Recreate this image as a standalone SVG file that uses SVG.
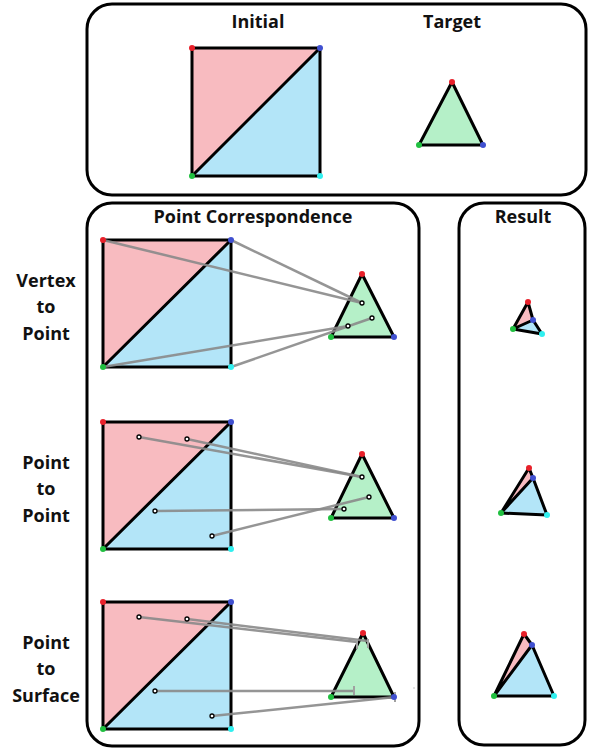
<svg xmlns="http://www.w3.org/2000/svg" width="589" height="750" viewBox="0 0 589 750">
<style>
.panel{fill:#fff;stroke:#000;stroke-width:3}
.t{font-family:"Open Sans","Liberation Sans",sans-serif;font-weight:bold;font-size:18px;fill:#111;text-anchor:middle}
.pink{fill:#f8bbc0}
.blue{fill:#b3e5f8}
.green{fill:#b5f0c8}
.edge{fill:none;stroke:#000;stroke-width:3;stroke-linejoin:round;stroke-linecap:round}
.vr{fill:#e8202a}.vb{fill:#4050d0}.vg{fill:#20c040}.vc{fill:#30f0f0}
.pt{fill:#fff;stroke:#000;stroke-width:1.3}
.link{stroke:#8a8a8a;stroke-width:2.5;opacity:0.9;fill:none}
.tick{stroke:#a0a0a0;stroke-width:2;fill:none}
</style>
<rect width="589" height="750" fill="#fff"/>

<g id="panel-top">
<rect class="panel" x="87" y="4" width="499" height="191" rx="25"/>
<text class="t" x="258" y="28">Initial</text>
<text class="t" x="452" y="28">Target</text>
</g>
<g id="panel-corr">
<rect class="panel" x="87" y="203" width="332" height="543" rx="25"/>
<text class="t" x="253" y="223">Point Correspondence</text>
</g>
<g id="panel-result">
<rect class="panel" x="459" y="203" width="126" height="542" rx="25"/>
<text class="t" x="523" y="223">Result</text>
</g>

<g id="labels">
<text class="t" x="46" y="287">Vertex</text>
<text class="t" x="46" y="313">to</text>
<text class="t" x="46" y="340">Point</text>
<text class="t" x="46" y="469">Point</text>
<text class="t" x="46" y="495">to</text>
<text class="t" x="46" y="522">Point</text>
<text class="t" x="46" y="649">Point</text>
<text class="t" x="46" y="675">to</text>
<text class="t" x="46" y="702">Surface</text>
</g>

<g id="initial-square">
<polygon class="pink" points="192,48 320,48 192,176"/>
<polygon class="blue" points="320,48 320,176 192,176"/>
<rect class="edge" x="192" y="48" width="128" height="128"/>
<line class="edge" x1="192" y1="176" x2="320" y2="48"/>
<circle class="vr" cx="192" cy="48" r="3"/><circle class="vb" cx="320" cy="48" r="3"/>
<circle class="vg" cx="192" cy="176" r="3"/><circle class="vc" cx="320" cy="176" r="3"/>
</g>
<g id="target-triangle">
<polygon class="green" points="452,82 419,145 483,145"/>
<polygon class="edge" points="452,82 419,145 483,145"/>
<circle class="vr" cx="452" cy="82" r="3"/><circle class="vg" cx="419" cy="145" r="3"/><circle class="vb" cx="483" cy="145" r="3"/>
</g>

<g id="square-1">
<polygon class="pink" points="103,240 231,240 103,367"/>
<polygon class="blue" points="231,240 231,367 103,367"/>
<rect class="edge" x="103" y="240" width="128" height="127"/>
<line class="edge" x1="103" y1="367" x2="231" y2="240"/>
</g>
<g id="triangle-1">
<polygon class="green" points="362,274 331,337 394,337"/>
<polygon class="edge" points="362,274 331,337 394,337"/>
</g>
<g id="square-2">
<polygon class="pink" points="103,422 231,422 103,549"/>
<polygon class="blue" points="231,422 231,549 103,549"/>
<rect class="edge" x="103" y="422" width="128" height="127"/>
<line class="edge" x1="103" y1="549" x2="231" y2="422"/>
</g>
<g id="triangle-2">
<polygon class="green" points="362,454 331,518 394,518"/>
<polygon class="edge" points="362,454 331,518 394,518"/>
</g>
<g id="square-3">
<polygon class="pink" points="103,602 231,602 103,729"/>
<polygon class="blue" points="231,602 231,729 103,729"/>
<rect class="edge" x="103" y="602" width="128" height="127"/>
<line class="edge" x1="103" y1="729" x2="231" y2="602"/>
</g>
<g id="triangle-3">
<polygon class="green" points="363,633 331,697 394,697"/>
<polygon class="edge" points="363,633 331,697 394,697"/>
</g>

<g id="connectors">
<line class="link" x1="103" y1="240" x2="362" y2="303"/>
<line class="link" x1="231" y1="240" x2="362" y2="303"/>
<line class="link" x1="103" y1="367" x2="348" y2="326"/>
<line class="link" x1="231" y1="367" x2="372" y2="318"/>

<line class="link" x1="139" y1="437" x2="362" y2="477"/>
<line class="link" x1="187" y1="439" x2="362" y2="477"/>
<line class="link" x1="155" y1="511" x2="344" y2="509"/>
<line class="link" x1="212" y1="536" x2="369" y2="497"/>

<line class="link" x1="139" y1="617" x2="357" y2="642"/>
<line class="link" x1="187" y1="619" x2="368" y2="641"/>
<line class="link" x1="155" y1="691" x2="354" y2="691"/>
<line class="link" x1="212" y1="716" x2="395" y2="697"/>
<line class="tick" x1="357" y1="640" x2="357" y2="649"/>
<line class="tick" x1="368" y1="639" x2="368" y2="648"/>
<line class="tick" x1="354" y1="686" x2="354" y2="695"/>
<line class="tick" x1="395" y1="692" x2="395" y2="702"/>
<circle cx="414" cy="688" r="0.8" fill="#bbb"/>
</g>

<g id="points">
<circle class="vr" cx="103" cy="240" r="3"/><circle class="vb" cx="231" cy="240" r="3"/>
<circle class="vg" cx="103" cy="367" r="3"/><circle class="vc" cx="231" cy="367" r="3"/>
<circle class="vr" cx="362" cy="274" r="3"/><circle class="vg" cx="331" cy="337" r="3"/><circle class="vb" cx="394" cy="337" r="3"/>
<circle class="pt" cx="362" cy="303" r="2"/><circle class="pt" cx="372" cy="318" r="2"/><circle class="pt" cx="348" cy="326" r="2"/>

<circle class="vr" cx="103" cy="422" r="3"/><circle class="vb" cx="231" cy="422" r="3"/>
<circle class="vg" cx="103" cy="549" r="3"/><circle class="vc" cx="231" cy="549" r="3"/>
<circle class="vr" cx="362" cy="454" r="3"/><circle class="vg" cx="331" cy="518" r="3"/><circle class="vb" cx="394" cy="518" r="3"/>
<circle class="pt" cx="139" cy="437" r="2"/><circle class="pt" cx="187" cy="439" r="2"/><circle class="pt" cx="155" cy="511" r="2"/><circle class="pt" cx="212" cy="536" r="2"/>
<circle class="pt" cx="362" cy="477" r="2"/><circle class="pt" cx="369" cy="497" r="2"/><circle class="pt" cx="344" cy="509" r="2"/>

<circle class="vr" cx="103" cy="602" r="3"/><circle class="vb" cx="231" cy="602" r="3"/>
<circle class="vg" cx="103" cy="729" r="3"/><circle class="vc" cx="231" cy="729" r="3"/>
<circle class="vr" cx="363" cy="633" r="3"/><circle class="vg" cx="331" cy="697" r="3"/><circle class="vb" cx="394" cy="697" r="3"/>
<circle class="pt" cx="139" cy="617" r="2"/><circle class="pt" cx="187" cy="619" r="2"/><circle class="pt" cx="155" cy="691" r="2"/><circle class="pt" cx="212" cy="716" r="2"/>
</g>

<g id="result-1">
<polygon class="pink" points="528,302 533,320 513,329"/>
<polygon class="blue" points="513,329 533,320 542,334"/>
<path class="edge" d="M528,302 L513,329 L542,334 L533,320 L528,302 M513,329 L533,320"/>
<circle class="vr" cx="528" cy="302" r="3"/><circle class="vb" cx="533" cy="320" r="3"/><circle class="vg" cx="513" cy="329" r="3"/><circle class="vc" cx="542" cy="334" r="3"/>
</g>
<g id="result-2">
<polygon class="pink" points="529,468 533,478 501,513"/>
<polygon class="blue" points="501,513 533,478 547,515"/>
<path class="edge" d="M529,468 L501,513 L547,515 L533,478 L529,468 M501,513 L533,478"/>
<circle class="vr" cx="529" cy="468" r="3"/><circle class="vb" cx="533" cy="478" r="3"/><circle class="vg" cx="501" cy="513" r="3"/><circle class="vc" cx="547" cy="515" r="3"/>
</g>
<g id="result-3">
<polygon class="pink" points="524,634 532,645 494,696"/>
<polygon class="blue" points="494,696 532,645 554,696"/>
<path class="edge" d="M524,634 L494,696 L554,696 L532,645 L524,634 M494,696 L532,645"/>
<circle class="vr" cx="524" cy="634" r="3"/><circle class="vb" cx="532" cy="645" r="3"/><circle class="vg" cx="494" cy="696" r="3"/><circle class="vc" cx="554" cy="696" r="3"/>
</g>
</svg>
